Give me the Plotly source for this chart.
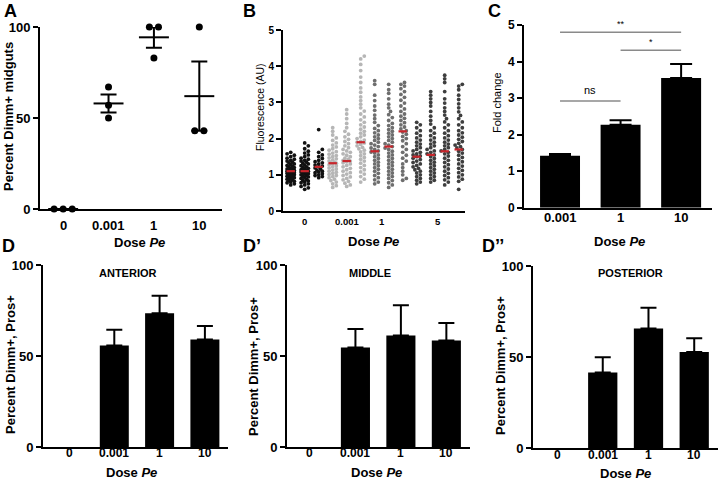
import numpy as np
import plotly.graph_objects as go

W, H = 718, 485
FONT = "Liberation Sans, Arial, sans-serif"

# ---------------- data ----------------
# Panel A: percent Dimm+ midguts (individual replicates)
doseA = ["0", "0.001", "1", "10"]
a_points = [[0, 0, 0], [67, 57, 50], [100, 100, 83], [100, 43, 43]]

# Panel B: fluorescence (AU), 13 samples in 4 dose groups
doseB_labels = ["0", "0.001", "1", "5"]
doseB_label_pos = [2, 5, 7.5, 11.5]
b_group = [0, 0, 0, 1, 1, 1, 2, 2, 2, 3, 3, 3, 3]
b_median = [1.10, 1.10, 1.22, 1.32, 1.38, 1.90, 1.65, 1.78, 2.20, 1.50, 1.55, 1.65, 1.70]
b_c1 = [0.72, 0.75, 0.78, 0.8, 0.82, 0.85, 0.86, 0.88, 0.9, 0.92, 0.93, 0.95, 0.96, 0.98, 1.0, 1.01, 1.02, 1.04, 1.05,
        1.06, 1.08, 1.09, 1.1, 1.1, 1.12, 1.13, 1.15, 1.16, 1.18, 1.2, 1.22, 1.24, 1.26, 1.28, 1.3, 1.33, 1.35, 1.38,
        1.4, 1.43, 1.46, 1.5, 1.54, 1.58, 1.62]
b_c2 = [0.6, 0.64, 0.68, 0.72, 0.75, 0.78, 0.8, 0.83, 0.85, 0.87, 0.9, 0.92, 0.94, 0.96, 0.98, 1.0, 1.02, 1.03, 1.05,
        1.06, 1.08, 1.09, 1.1, 1.11, 1.12, 1.14, 1.16, 1.18, 1.2, 1.22, 1.25, 1.27, 1.3, 1.32, 1.35, 1.38, 1.4, 1.43,
        1.46, 1.5, 1.55, 1.6, 1.65, 1.72, 1.8, 1.88]
b_c3 = [0.92, 0.95, 0.98, 1.0, 1.03, 1.06, 1.08, 1.1, 1.13, 1.16, 1.19, 1.22, 1.24, 1.27, 1.3, 1.33, 1.36, 1.4, 1.45,
        1.5, 1.55, 1.62, 1.7, 2.25]
b_c4 = [0.65, 0.7, 0.75, 0.8, 0.84, 0.88, 0.92, 0.95, 0.98, 1.01, 1.04, 1.07, 1.1, 1.13, 1.16, 1.19, 1.22, 1.25, 1.28,
        1.3, 1.32, 1.33, 1.35, 1.38, 1.41, 1.44, 1.47, 1.5, 1.53, 1.57, 1.6, 1.64, 1.68, 1.72, 1.77, 1.82, 1.88, 1.95,
        2.02, 2.1, 2.2, 2.3]
b_c5 = [0.68, 0.72, 0.77, 0.82, 0.86, 0.9, 0.94, 0.98, 1.02, 1.06, 1.1, 1.14, 1.18, 1.22, 1.26, 1.3, 1.33, 1.36, 1.38,
        1.4, 1.43, 1.46, 1.5, 1.54, 1.58, 1.62, 1.66, 1.7, 1.75, 1.8, 1.86, 1.92, 1.98, 2.05, 2.12, 2.2, 2.3, 2.42,
        2.55, 2.68, 2.8]
b_c6 = [0.8, 0.88, 0.95, 1.02, 1.08, 1.14, 1.2, 1.26, 1.32, 1.38, 1.43, 1.48, 1.53, 1.58, 1.63, 1.68, 1.72, 1.76, 1.8,
        1.84, 1.88, 1.9, 1.92, 1.96, 2.0, 2.05, 2.1, 2.15, 2.2, 2.26, 2.32, 2.38, 2.45, 2.52, 2.6, 2.68, 2.76, 2.85,
        2.95, 3.05, 3.15, 3.28, 3.4, 3.55, 3.7, 3.88, 4.05, 4.2, 4.28]
b_c7 = [0.75, 0.8, 0.86, 0.92, 0.98, 1.04, 1.1, 1.15, 1.2, 1.25, 1.3, 1.35, 1.4, 1.45, 1.5, 1.55, 1.6, 1.63, 1.66, 1.7,
        1.74, 1.78, 1.82, 1.86, 1.9, 1.95, 2.0, 2.05, 2.1, 2.16, 2.22, 2.28, 2.36, 2.45, 2.55, 2.65, 2.78, 2.9, 3.05,
        3.2, 3.5, 3.6]
b_c8 = [0.65, 0.72, 0.78, 0.84, 0.9, 0.95, 1.0, 1.05, 1.1, 1.15, 1.2, 1.25, 1.3, 1.35, 1.4, 1.45, 1.5, 1.55, 1.6, 1.65,
        1.7, 1.74, 1.78, 1.82, 1.86, 1.9, 1.95, 2.0, 2.05, 2.1, 2.15, 2.2, 2.25, 2.3, 2.36, 2.42, 2.5, 2.58, 2.66, 2.75,
        2.85, 2.95, 3.1, 3.25, 3.35, 3.5]
b_c9 = [0.85, 0.9, 1.0, 1.1, 1.2, 1.3, 1.38, 1.46, 1.54, 1.62, 1.7, 1.78, 1.86, 1.94, 2.0, 2.06, 2.12, 2.18, 2.22, 2.27,
        2.32, 2.38, 2.44, 2.5, 2.56, 2.62, 2.68, 2.75, 2.82, 2.9, 2.98, 3.06, 3.14, 3.22, 3.3, 3.38, 3.45, 3.5, 3.55]
b_c10 = [0.75, 0.8, 0.85, 0.9, 0.95, 1.0, 1.05, 1.1, 1.14, 1.18, 1.22, 1.26, 1.3, 1.34, 1.38, 1.42, 1.46, 1.5, 1.52,
         1.55, 1.58, 1.62, 1.66, 1.7, 1.75, 1.8, 1.85, 1.9, 1.96, 2.02, 2.08, 2.15, 2.22, 2.3, 2.38, 2.45]
b_c11 = [0.8, 0.85, 0.9, 0.95, 1.0, 1.05, 1.1, 1.15, 1.2, 1.25, 1.3, 1.35, 1.4, 1.45, 1.5, 1.55, 1.58, 1.62, 1.66, 1.7,
         1.75, 1.8, 1.85, 1.9, 1.96, 2.02, 2.08, 2.15, 2.22, 2.3, 2.4, 2.5, 2.62, 2.75, 2.9, 3.0, 3.1, 3.2, 3.3]
b_c12 = [0.72, 0.8, 0.86, 0.92, 0.98, 1.04, 1.1, 1.16, 1.22, 1.28, 1.34, 1.4, 1.46, 1.52, 1.58, 1.62, 1.66, 1.7, 1.75,
         1.8, 1.85, 1.9, 1.96, 2.02, 2.08, 2.15, 2.22, 2.3, 2.38, 2.46, 2.55, 2.65, 2.75, 2.85, 2.98, 3.1, 3.3, 3.55,
         3.65, 3.75]
b_c13 = [0.6, 0.82, 0.88, 0.94, 1.0, 1.06, 1.12, 1.18, 1.24, 1.3, 1.36, 1.42, 1.48, 1.54, 1.6, 1.65, 1.7, 1.74, 1.78,
         1.82, 1.87, 1.92, 1.98, 2.04, 2.1, 2.16, 2.22, 2.3, 2.38, 2.46, 2.55, 2.64, 2.74, 2.85, 2.96, 3.08, 3.2, 3.35,
         3.45, 3.5]
b_columns = [b_c1, b_c2, b_c3, b_c4, b_c5, b_c6, b_c7, b_c8, b_c9, b_c10, b_c11, b_c12, b_c13]

# Panel C: fold change
doseC = ["0.001", "1", "10"]
c_mean = [1.42, 2.27, 3.55]
c_err = [0.05, 0.12, 0.38]
c_sig_pairs = [(0, 2), (1, 2), (0, 1)]
c_sig_labels = ["**", "*", "ns"]
c_sig_levels = [4.8, 4.31, 2.92]

# Panel D: percent Dimm+, Pros+ per region
doseD = ["0", "0.001", "1", "10"]
d_anterior = [0, 55.9, 73.5, 59.2]
d_anterior_err = [0, 8.6, 9.7, 7.3]
d_middle = [0, 54.7, 61.2, 58.5]
d_middle_err = [0, 10.2, 16.7, 9.7]
d_posterior = [0, 41.5, 65.6, 52.8]
d_posterior_err = [0, 8.4, 11.5, 7.5]

# ---------------- helpers ----------------
def dom_x(a, b):
    return [a / W, min(b / W, 1.0)]


def dom_y(top, bot):
    return [1 - bot / H, 1 - top / H]


def px(x):
    return x / W


def py(y):
    return 1 - y / H


def swarm(vals, sx, sy, d=3.6, maxw=5.0):
    vals = np.asarray(vals, dtype=float)
    order = np.argsort(vals, kind="stable")
    step = d * 0.5
    cands = [0.0]
    k = 1
    while k * step <= maxw:
        cands += [k * step, -k * step]
        k += 1
    placed = []
    offs = np.zeros(len(vals))
    for i in order:
        y = vals[i] * sy
        near = [(p, q) for p, q in placed if abs(y - q) < d]
        best, bestc, bestscore = None, 0.0, -1
        for c in cands:
            md = min([np.hypot(c - p, y - q) for p, q in near] or [1e9])
            if md >= d:
                best = c
                break
            if md > bestscore:
                bestscore, bestc = md, c
        if best is None:
            best = bestc
        placed.append((best, y))
        offs[i] = best / sx
    return offs


def dodge(vals, spacing):
    vals = list(vals)
    out = []
    for i, v in enumerate(vals):
        same = [j for j, u in enumerate(vals) if u == v]
        n = len(same)
        k = same.index(i)
        out.append((k - (n - 1) / 2) * spacing)
    return out


fig = go.Figure()
BLACK = "#000000"

# ---------------- Panel A ----------------
ax_, ay_ = [], []
means, sems = [], []
for i, pts in enumerate(a_points):
    off = dodge(pts, 0.2)
    ax_ += [i + o for o in off]
    ay_ += pts
    arr = np.array(pts, float)
    means.append(arr.mean())
    sems.append(arr.std(ddof=1) / np.sqrt(len(arr)))
fig.add_trace(go.Scatter(x=ax_, y=ay_, mode="markers", xaxis="x", yaxis="y",
                         marker=dict(color=BLACK, size=7), cliponaxis=False, showlegend=False))
mx, my = [], []
for i, m in enumerate(means):
    mx += [i - 0.33, i + 0.33, None]
    my += [m, m, None]
fig.add_trace(go.Scatter(x=mx, y=my, mode="lines", xaxis="x", yaxis="y",
                         line=dict(color=BLACK, width=2), cliponaxis=False, showlegend=False))
fig.add_trace(go.Scatter(x=list(range(4)), y=means, mode="markers", xaxis="x", yaxis="y",
                         marker=dict(size=1, color="rgba(0,0,0,0)"),
                         error_y=dict(type="data", array=sems, visible=True, width=8, thickness=2, color=BLACK),
                         cliponaxis=False, showlegend=False))

# ---------------- Panel B ----------------
grp_colors = ["#111111", "#b6b6b6", "#6e6e6e", "#3e3e3e"]
SX, SY = 14.0, 36.2
for c, vals in enumerate(b_columns):
    xc = c + 1
    offs = swarm(vals, SX, SY)
    fig.add_trace(go.Scatter(x=xc + offs, y=vals, mode="markers", xaxis="x2", yaxis="y2",
                             marker=dict(color=grp_colors[b_group[c]], size=3.8, line=dict(width=0)),
                             showlegend=False))
rx, ry = [], []
for c, m in enumerate(b_median):
    rx += [c + 1 - 0.3, c + 1 + 0.3, None]
    ry += [m, m, None]
fig.add_trace(go.Scatter(x=rx, y=ry, mode="lines", xaxis="x2", yaxis="y2",
                         line=dict(color="#c8252b", width=2.2), showlegend=False))

# ---------------- Panel C ----------------
fig.add_trace(go.Bar(x=[0, 1, 2], y=c_mean, width=0.66, xaxis="x3", yaxis="y3",
                     marker=dict(color=BLACK, line=dict(width=0)),
                     error_y=dict(type="data", array=c_err, arrayminus=[0, 0, 0], symmetric=False,
                                  width=11, thickness=2, color=BLACK),
                     showlegend=False))

# ---------------- Panel D ----------------
for k, (vals, errs) in enumerate([(d_anterior, d_anterior_err), (d_middle, d_middle_err),
                                  (d_posterior, d_posterior_err)]):
    xa = "x%d" % (4 + k)
    ya = "y%d" % (4 + k)
    idx = [i for i, v in enumerate(vals) if v > 0]
    fig.add_trace(go.Bar(x=idx, y=[vals[i] for i in idx], width=0.64, xaxis=xa, yaxis=ya,
                         marker=dict(color=BLACK, line=dict(width=0)),
                         error_y=dict(type="data", array=[errs[i] for i in idx],
                                      arrayminus=[0] * len(idx), symmetric=False,
                                      width=8, thickness=2, color=BLACK),
                         showlegend=False))

# ---------------- axes ----------------
def yax(dom, rng, ticks, size, anchor):
    return dict(domain=dom, range=rng, tickvals=ticks, ticktext=[str(t) for t in ticks],
                showline=True, linecolor=BLACK, linewidth=2, ticks="outside", ticklen=5,
                tickwidth=2, tickcolor=BLACK, showgrid=False, zeroline=False, anchor=anchor,
                automargin=False,
                tickfont=dict(family=FONT, size=size, color=BLACK, weight="bold"), fixedrange=True)


def xax(dom, rng, anchor):
    return dict(domain=dom, range=rng, showticklabels=False, ticks="",
                showline=True, linecolor=BLACK, linewidth=2,
                showgrid=False, zeroline=False, anchor=anchor, automargin=False, fixedrange=True)


layout = dict(
    template="none",
    width=W, height=H, margin=dict(l=0, r=0, t=0, b=0, pad=0, autoexpand=False),
    paper_bgcolor="white", plot_bgcolor="white",
    font=dict(family=FONT, color=BLACK), showlegend=False,
    xaxis=xax(dom_x(40, 222), [-0.51, 3.5], "y"),
    yaxis=yax(dom_y(27, 209), [0, 100], [0, 50, 100], 13, "x"),
    xaxis2=xax(dom_x(283, 465), [0.45, 13.45], "y2"),
    yaxis2=yax(dom_y(30, 211), [0, 5], [0, 1, 2, 3, 4, 5], 10, "x2"),
    xaxis3=xax(dom_x(524, 712), [-0.595, 2.51], "y3"),
    yaxis3=yax(dom_y(25, 207.7), [0, 5], [0, 1, 2, 3, 4, 5], 12, "x3"),
    xaxis4=xax(dom_x(43, 228), [-0.574, 3.51], "y4"),
    yaxis4=yax(dom_y(265, 447.3), [0, 100], [0, 50, 100], 13, "x4"),
    xaxis5=xax(dom_x(287, 470), [-0.505, 3.52], "y5"),
    yaxis5=yax(dom_y(265, 447), [0, 100], [0, 50, 100], 13, "x5"),
    xaxis6=xax(dom_x(533, 718), [-0.525, 3.52], "y6"),
    yaxis6=yax(dom_y(266, 448), [0, 100], [0, 50, 100], 13, "x6"),
)
fig.update_layout(**layout)

# significance brackets in panel C
shapes = []
for (i, j), lvl, lab in zip(c_sig_pairs, c_sig_levels, c_sig_labels):
    shapes.append(dict(type="line", xref="x3", yref="y3", x0=i, x1=j, y0=lvl, y1=lvl,
                       line=dict(color="#8a8a8a", width=1.6)))
fig.update_layout(shapes=shapes)

ann = []


def text(x, y, s, size, bold=True, angle=0, xanchor="center", yanchor="middle"):
    ann.append(dict(x=px(x), y=py(y), xref="paper", yref="paper", text=("<b>%s</b>" % s) if bold else s,
                    showarrow=False, textangle=angle, xanchor=xanchor, yanchor=yanchor,
                    font=dict(family=FONT, size=size, color=BLACK)))


def xticks(xref, positions, labels, ycenter, size):
    for p, lab in zip(positions, labels):
        ann.append(dict(x=p, y=py(ycenter), xref=xref, yref="paper", text="<b>%s</b>" % lab,
                        showarrow=False, xanchor="center", yanchor="middle",
                        font=dict(family=FONT, size=size, color=BLACK)))


xticks("x", range(4), doseA, 225, 13)
xticks("x2", doseB_label_pos, doseB_labels, 222, 9.5)
xticks("x3", range(3), doseC, 218, 13)
xticks("x4", range(4), doseD, 453, 12)
xticks("x5", range(4), doseD, 453, 12)
xticks("x6", range(4), doseD, 455, 12)

for (i, j), lvl, lab in zip(c_sig_pairs, c_sig_levels, c_sig_labels):
    ann.append(dict(x=(i + j) / 2, y=lvl, xref="x3", yref="y3", text=lab, showarrow=False,
                    yanchor="bottom", yshift=3 if lab == "ns" else 1,
                    font=dict(family=FONT, size=11 if lab == "ns" else 9, color=BLACK)))

# panel letters
text(2, 10.5, "A", 18, xanchor="left")
text(241, 10.5, "B", 18, xanchor="left")
text(486, 10.5, "C", 18, xanchor="left")
text(0, 246, "D", 18, xanchor="left")
text(241, 246, "D’", 18, xanchor="left")
text(480, 246, "D’’", 18, xanchor="left")

# axis titles
text(8, 117, "Percent Dimm+ midguts", 13, angle=-90)
text(260, 107, "Fluorescence (AU)", 10.5, bold=False, angle=-90)
text(497, 103, "Fold change", 11, bold=False, angle=-90)
text(10, 365, "Percent Dimm+, Pros+", 13, angle=-90)
text(253, 367, "Percent Dimm+, Pros+", 13, angle=-90)
text(500, 366, "Percent Dimm+, Pros+", 13, angle=-90)

for (x, y) in [(139, 242), (373, 241), (619, 241), (131, 472), (377, 472), (625, 473)]:
    text(x, y, "Dose <i>Pe</i>", 13)

text(128, 273, "ANTERIOR", 11)
text(370, 273, "MIDDLE", 11)
text(630, 273, "POSTERIOR", 11)

fig.update_layout(annotations=ann)
fig.write_html("out.html", config={"displayModeBar": False},
               post_script="document.body.style.margin='0px';")
